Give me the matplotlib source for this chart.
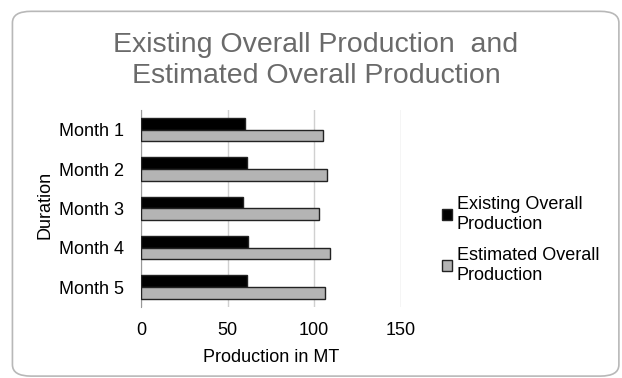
import matplotlib
matplotlib.use("Agg")
import matplotlib.pyplot as plt
from matplotlib.patches import FancyBboxPatch, Patch
import numpy as np

plt.rcParams['font.family'] = ['Liberation Sans', 'DejaVu Sans']

months = ["Month 1", "Month 2", "Month 3", "Month 4", "Month 5"]
existing = [60, 61, 59, 62, 61]
estimated = [105, 107.5, 103, 109, 106]
x_ticks = [0, 50, 100, 150]

fig = plt.figure(figsize=(6.22, 3.78), dpi=100)

# rounded frame around the whole chart
frame = FancyBboxPatch((0.02, 0.005), 0.975, 0.965, boxstyle="round,pad=0,rounding_size=0.03",
                       transform=fig.transFigure, facecolor="none", edgecolor="#b8b8b8",
                       linewidth=1.2, zorder=-1)
fig.patches.append(frame)

ax = fig.add_axes([0.2267, 0.1886, 0.4175, 0.5204])
ax.set_facecolor("none")

y = np.arange(len(months))
h = 0.3
ax.barh(y - h / 2, existing, height=h, color="black", edgecolor="#222222", linewidth=1, zorder=3)
ax.barh(y + h / 2, estimated, height=h, color="#b4b4b4", edgecolor="#222222", linewidth=1, zorder=3)

ax.set_xlim(0, 150)
ax.set_ylim(len(months) - 0.5, -0.5)
ax.set_xticks(x_ticks)
ax.set_yticks(y)
ax.set_yticklabels(months)
ax.tick_params(length=0, labelsize=13, colors="black")
ax.tick_params(axis="x", pad=11)
ax.tick_params(axis="y", pad=12)
ax.grid(axis="x", color="#d0d0d0", linewidth=1, zorder=0)
for s in ["top", "right", "bottom"]:
    ax.spines[s].set_visible(False)
ax.spines["left"].set_color("#999999")

ax.set_xlabel("Production in MT", fontsize=13, labelpad=7)
fig.text(0.072, 0.458, "Duration", rotation=90, ha="center", va="center", fontsize=13)

fig.text(0.508, 0.841, "Existing Overall Production  and\nEstimated Overall Production",
         ha="center", va="center", fontsize=20.5, color="#6a6a6a", linespacing=1.25)

handles = [Patch(facecolor="black", edgecolor="#222222"),
           Patch(facecolor="#b4b4b4", edgecolor="#222222")]
fig.legend(handles, ["Existing Overall\nProduction", "Estimated Overall\nProduction"],
           loc="center left", bbox_to_anchor=(0.685, 0.365), frameon=False, fontsize=13,
           handlelength=0.55, handleheight=0.55, handletextpad=0.25, labelspacing=0.8)

fig.savefig("out.png", dpi=100)
